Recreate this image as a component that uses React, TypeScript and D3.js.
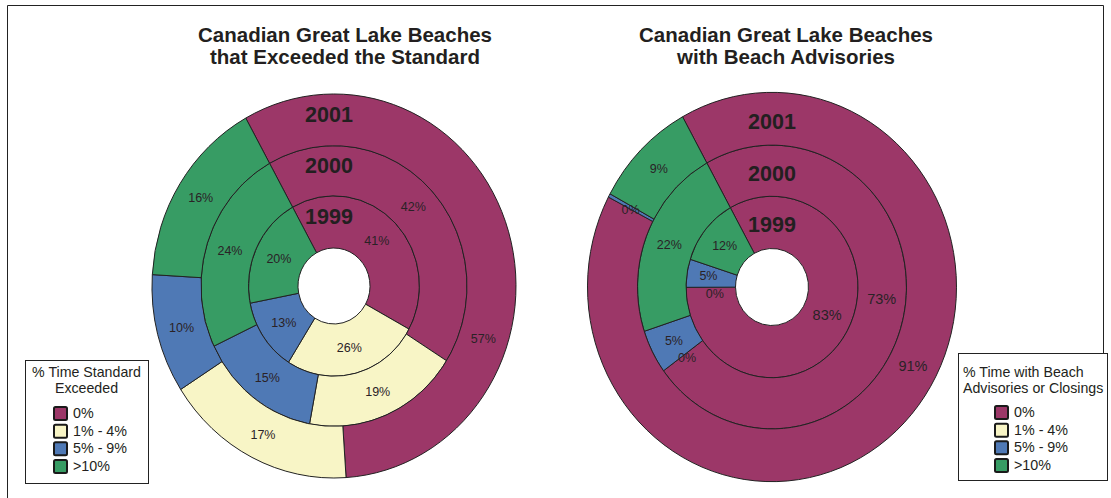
import * as d3 from 'd3';

const categories = ['0%', '1% - 4%', '5% - 9%', '>10%'];
const categoryColors = ['#9c3768', '#f8f5c6', '#4f79b5', '#379c64'];
const years = ['1999', '2000', '2001'];

// % of beaches per category, inner ring (1999) to outer ring (2001)
const standard1999 = [41, 26, 13, 20];
const standard2000 = [42, 19, 15, 24];
const standard2001 = [57, 17, 10, 16];

const advisory1999 = [83, 0, 5, 12];
const advisory2000 = [73, 0, 5, 22];
const advisory2001 = [90.7, 0, 0.3, 9];

const FONT = '"Liberation Sans", Arial, Helvetica, sans-serif';
const START = (-29 * Math.PI) / 180;
const Y_STRETCH = 1.055;

interface ChartCfg {
  title: string[];
  titleX: number;
  cx: number;
  cy: number;
  radii: number[];
  rings: number[][];
  yearDx: number;
  yearDy: number;
  bigLabels: boolean;
  labelFrac: Record<string, number>;
  labelNudge: Record<string, [number, number]>;
  legend: {
    title: string[];
    x: number;
    y: number;
    w: number;
    h: number;
    titleX: number;
    anchor: 'middle' | 'start';
    swatchX: number;
    rowY: number;
  };
}

const charts: ChartCfg[] = [
  {
    title: ['Canadian Great Lake Beaches', 'that Exceeded the Standard'],
    titleX: 345,
    cx: 334,
    cy: 286,
    radii: [36, 85.5, 133, 182],
    rings: [standard1999, standard2000, standard2001],
    yearDx: -5,
    yearDy: 2,
    bigLabels: false,
    labelFrac: { '2-0': 0.67 },
    labelNudge: {},
    legend: {
      title: ['% Time Standard', 'Exceeded'],
      x: 25.5, y: 360.5, w: 123, h: 123,
      titleX: 86.5, anchor: 'middle',
      swatchX: 54, rowY: 413,
    },
  },
  {
    title: ['Canadian Great Lake Beaches', 'with Beach Advisories'],
    titleX: 786,
    cx: 772,
    cy: 287,
    radii: [36.5, 86, 134.5, 184.5],
    rings: [advisory1999, advisory2000, advisory2001],
    yearDx: 0,
    yearDy: 10,
    bigLabels: true,
    labelFrac: { '2-0': 0.45, '1-0': 0.475, '0-0': 0.485 },
    labelNudge: { '0-1': [4, 6], '0-2': [-3, -1], '1-1': [4, 2] },
    legend: {
      title: ['% Time with Beach', 'Advisories or Closings'],
      x: 958.5, y: 353.5, w: 149, h: 127,
      titleX: 963, anchor: 'start',
      swatchX: 995, rowY: 412,
    },
  },
];

function Doughnut({ cfg }: { cfg: ChartCfg }) {
  const arc = d3.arc<d3.PieArcDatum<number>>();
  const pie = d3.pie<number>().sort(null).startAngle(START).endAngle(START + 2 * Math.PI);

  const labels: { x: number; y: number; text: string; size: number }[] = [];

  const rings = cfg.rings.map((vals, ri) => {
    const r0 = cfg.radii[ri];
    const r1 = cfg.radii[ri + 1];
    const arcs = pie(vals);
    arcs.forEach((a, ci) => {
      const key = `${ri}-${ci}`;
      const frac = cfg.labelFrac[key] ?? 0.5;
      const [nx, ny] = cfg.labelNudge[key] ?? [0, 0];
      const ang = a.startAngle + (a.endAngle - a.startAngle) * frac;
      const rm = (r0 + r1) / 2;
      const x = cfg.cx + rm * Math.sin(ang) + nx;
      const y = cfg.cy - rm * Y_STRETCH * Math.cos(ang) + ny;
      const text = `${Math.round(vals[ci])}%`;
      if (labels.some((l) => l.text === text && Math.hypot(l.x - x, l.y - y) < 4)) return;
      labels.push({ x, y, text, size: cfg.bigLabels && ci === 0 ? 14.5 : 12.5 });
    });
    return (
      <g key={ri}>
        {arcs.map((a, ci) => (
          <path
            key={ci}
            d={arc.innerRadius(r0).outerRadius(r1)(a) ?? ''}
            fill={categoryColors[ci]}
            stroke="#222"
            strokeWidth={a.value > 0 ? 1 : 0}
            vectorEffect="non-scaling-stroke"
          />
        ))}
      </g>
    );
  });

  return (
    <g>
      <g transform={`translate(${cfg.cx},${cfg.cy}) scale(1,${Y_STRETCH})`}>{rings}</g>
      {labels.map((l, i) => (
        <text
          key={i}
          x={l.x}
          y={l.y}
          dy="0.35em"
          textAnchor="middle"
          fontFamily={FONT}
          fontSize={l.size}
          fill="#2a2226"
        >
          {l.text}
        </text>
      ))}
      {years.map((yr, ri) => {
        const rm = (cfg.radii[ri] + cfg.radii[ri + 1]) / 2;
        return (
          <text
            key={yr}
            x={cfg.cx + cfg.yearDx}
            y={cfg.cy - rm * Y_STRETCH + cfg.yearDy}
            textAnchor="middle"
            fontFamily={FONT}
            fontWeight="bold"
            fontSize={21.5}
            fill="#231f20"
          >
            {yr}
          </text>
        );
      })}
      {cfg.title.map((t, i) => (
        <text
          key={i}
          x={cfg.titleX}
          y={42 + i * 22}
          textAnchor="middle"
          fontFamily={FONT}
          fontWeight="bold"
          fontSize={20.5}
          fill="#231f20"
        >
          {t}
        </text>
      ))}
      <Legend cfg={cfg} />
    </g>
  );
}

function Legend({ cfg }: { cfg: ChartCfg }) {
  const L = cfg.legend;
  const rowY = d3.scalePoint<string>().domain(categories).range([L.rowY, L.rowY + 53]);
  return (
    <g fontFamily={FONT} fill="#231f20">
      <rect x={L.x} y={L.y} width={L.w} height={L.h} fill="#fff" stroke="#222" strokeWidth={1} />
      {L.title.map((t, i) => (
        <text key={i} x={L.titleX} y={377 + i * 15.5} textAnchor={L.anchor} fontSize={14.2}>
          {t}
        </text>
      ))}
      {categories.map((c, i) => {
        const y = rowY(c)!;
        return (
          <g key={c}>
            <rect
              x={L.swatchX}
              y={y - 6}
              width={13}
              height={13}
              rx={1.5}
              fill={categoryColors[i]}
              stroke="#1a1a1a"
              strokeWidth={2}
            />
            <text x={L.swatchX + 19} y={y + 5} fontSize={14.3}>
              {c}
            </text>
          </g>
        );
      })}
    </g>
  );
}

export default function App() {
  return (
    <svg
      width={1111}
      height={498}
      style={{ position: 'absolute', left: 0, top: 0, background: '#fff' }}
    >
      <rect width={1111} height={498} fill="#fff" />
      <path d="M7.5,498 V5.5 H1103.5 V353" fill="none" stroke="#222" strokeWidth={1} />
      {charts.map((c, i) => (
        <Doughnut key={i} cfg={c} />
      ))}
    </svg>
  );
}
